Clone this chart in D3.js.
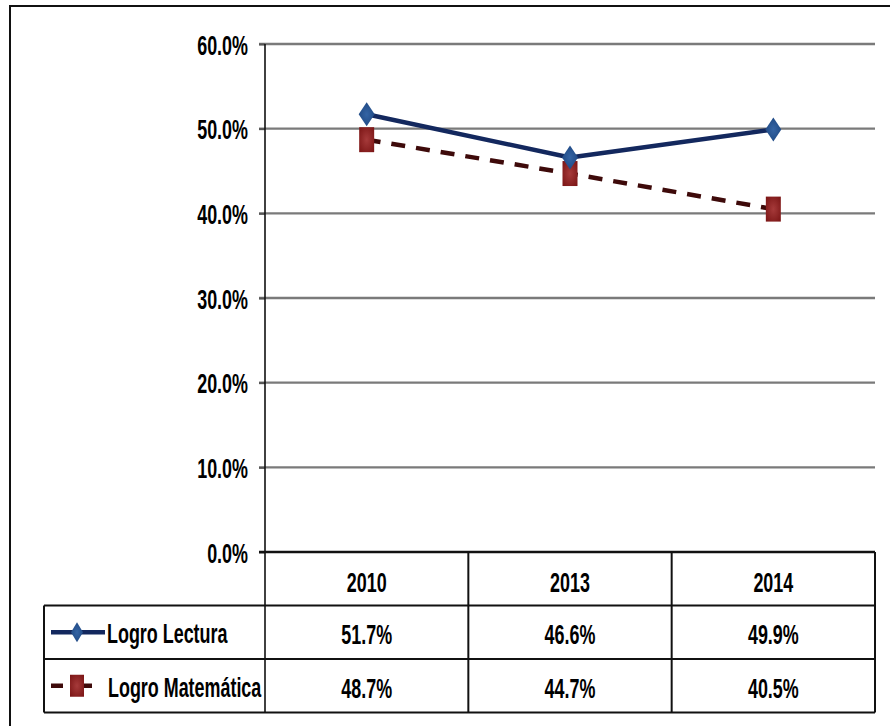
<!DOCTYPE html>
<html lang="es">
<head>
  <meta charset="UTF-8">
  <title>Logro</title>
  <script src="https://cdn.jsdelivr.net/npm/d3@7.6.1/dist/d3.min.js"></script>
  <style>
    body { margin: 0; background: #fff; }
    svg { display: block; }
    text { font-family: "Liberation Sans", Arial, sans-serif; font-weight: bold; fill: #000; }
  </style>
</head>
<body>
  <div id="box"></div>
  <script>
    const width = 890
    const height = 726
    const years = ['2010', '2013', '2014']
    const lectura = [51.7, 46.6, 49.9]
    const matematica = [48.7, 44.7, 40.5]
    const seriesNames = ['Logro Lectura', 'Logro Matemática']
    const yTicks = [0, 10, 20, 30, 40, 50, 60]

    const plot = { left: 265, right: 875, top: 44, bottom: 552 }
    const table = { left: 44, rowH: 53.5 }
    const fs = 28       // tamaño de letra
    const sx = 0.64     // letra estrecha (condensada)

    const svg = d3.select('#box').append('svg')
      .attr('width', width)
      .attr('height', height)

    // marco exterior
    svg.append('rect')
      .attr('x', 10).attr('y', 6)
      .attr('width', 890).attr('height', 740)
      .attr('fill', 'none').attr('stroke', '#111').attr('stroke-width', 2)

    const x = d3.scaleBand().domain(years).range([plot.left, plot.right])
    const y = d3.scaleLinear().domain([0, 60]).range([plot.bottom, plot.top])
    const cx = d => x(d) + x.bandwidth() / 2

    // texto estrecho
    function label(g, tx, ty, str, anchor) {
      return g.append('text')
        .attr('transform', `translate(${tx},${ty}) scale(${sx},1)`)
        .attr('text-anchor', anchor || 'middle')
        .attr('font-size', fs)
        .text(str)
    }

    // líneas de cuadrícula
    svg.append('g')
      .selectAll('line')
      .data(yTicks.filter(d => d > 0))
      .join('line')
      .attr('x1', plot.left - 6).attr('x2', plot.right)
      .attr('y1', d => y(d)).attr('y2', d => y(d))
      .attr('stroke', '#7a7a7a').attr('stroke-width', 2.4)

    // eje Y
    const yAxis = d3.axisLeft(y).tickValues(yTicks).tickSize(6)
      .tickFormat(d => d.toFixed(1) + '%')
    const gy = svg.append('g')
      .attr('transform', `translate(${plot.left},0)`)
      .call(yAxis)
    gy.select('.domain').remove()
    gy.selectAll('.tick line').attr('stroke', '#555').attr('stroke-width', 2)
    gy.selectAll('.tick text')
      .attr('x', 0).attr('dy', null)
      .attr('transform', `translate(-17,10) scale(${sx},1)`)
      .attr('font-size', fs)
      .attr('font-family', '"Liberation Sans", Arial, sans-serif')
      .attr('font-weight', 'bold')
      .attr('fill', '#000')

    // tabla de datos
    const rows = [lectura, matematica]
    const tableBottom = plot.bottom + table.rowH * 3
    const tg = svg.append('g').attr('stroke', '#111').attr('stroke-width', 2)
    // eje vertical que baja por la tabla
    tg.append('line').attr('x1', plot.left).attr('x2', plot.left)
      .attr('y1', plot.top).attr('y2', tableBottom).attr('stroke-width', 1.6)
    // línea del 0% / borde superior de la tabla
    tg.append('line').attr('x1', plot.left - 6).attr('x2', plot.right)
      .attr('y1', plot.bottom).attr('y2', plot.bottom).attr('stroke-width', 2.6)
    years.slice(1).forEach(yr => {
      tg.append('line').attr('x1', x(yr)).attr('x2', x(yr))
        .attr('y1', plot.bottom).attr('y2', tableBottom)
    })
    tg.append('line').attr('x1', plot.right).attr('x2', plot.right)
      .attr('y1', plot.bottom).attr('y2', tableBottom)
    tg.append('line').attr('x1', table.left).attr('x2', table.left)
      .attr('y1', plot.bottom + table.rowH).attr('y2', tableBottom)
    ;[1, 2, 3].forEach(r => {
      tg.append('line').attr('x1', table.left).attr('x2', plot.right)
        .attr('y1', plot.bottom + table.rowH * r).attr('y2', plot.bottom + table.rowH * r)
    })

    // cabecera de años y valores
    const tt = svg.append('g')
    years.forEach(yr => label(tt, cx(yr), plot.bottom + table.rowH / 2 + 13, yr))
    rows.forEach((vals, r) => {
      vals.forEach((v, i) => label(tt, cx(years[i]), plot.bottom + table.rowH * (r + 1.5) + 12, v.toFixed(1) + '%'))
    })

    // símbolos
    const diamond = (w, h) => `M0,${-h / 2}L${w / 2},0L0,${h / 2}L${-w / 2},0Z`
    const square = (w, h) => `M${-w / 2},${-h / 2}h${w}v${h}h${-w}Z`

    const defs = svg.append('defs')
    const gradSq = defs.append('radialGradient').attr('id', 'gsq').attr('r', '65%')
    gradSq.append('stop').attr('offset', '0%').attr('stop-color', '#a63a3a')
    gradSq.append('stop').attr('offset', '100%').attr('stop-color', '#7c1616')
    const gradDi = defs.append('radialGradient').attr('id', 'gdi').attr('r', '60%')
    gradDi.append('stop').attr('offset', '0%').attr('stop-color', '#3464a4')
    gradDi.append('stop').attr('offset', '100%').attr('stop-color', '#1d4680')

    const line = d3.line()
      .x((d, i) => cx(years[i]))
      .y(d => y(d))

    // Lectura
    svg.append('path')
      .datum(lectura)
      .attr('d', line)
      .attr('fill', 'none').attr('stroke', '#13285e').attr('stroke-width', 4.5)
      .attr('stroke-linejoin', 'round')

    // Matemática
    svg.append('path')
      .datum(matematica)
      .attr('d', line)
      .attr('fill', 'none').attr('stroke', '#3e0a0a').attr('stroke-width', 4.5)
      .attr('stroke-dasharray', '14,11')

    svg.append('g').selectAll('path')
      .data(matematica)
      .join('path')
      .attr('transform', (d, i) => `translate(${cx(years[i])},${y(d)})`)
      .attr('d', square(15, 25))
      .attr('fill', 'url(#gsq)')

    svg.append('g').selectAll('path')
      .data(lectura)
      .join('path')
      .attr('transform', (d, i) => `translate(${cx(years[i])},${y(d)})`)
      .attr('d', diamond(16, 24))
      .attr('fill', 'url(#gdi)')

    // leyenda dentro de la tabla
    const ly1 = plot.bottom + table.rowH * 1.5
    const ly2 = plot.bottom + table.rowH * 2.5
    svg.append('line').attr('x1', 51).attr('x2', 105).attr('y1', ly1).attr('y2', ly1)
      .attr('stroke', '#13285e').attr('stroke-width', 4.5)
    svg.append('path').attr('transform', `translate(77,${ly1})`)
      .attr('d', diamond(12, 20)).attr('fill', 'url(#gdi)')
    svg.append('line').attr('x1', 51).attr('x2', 63).attr('y1', ly2).attr('y2', ly2)
      .attr('stroke', '#3e0a0a').attr('stroke-width', 4.5)
    svg.append('line').attr('x1', 84).attr('x2', 92).attr('y1', ly2).attr('y2', ly2)
      .attr('stroke', '#3e0a0a').attr('stroke-width', 4.5)
    svg.append('path').attr('transform', `translate(77,${ly2})`)
      .attr('d', square(14, 22)).attr('fill', 'url(#gsq)')

    const lg = svg.append('g')
    label(lg, 107, ly1 + 11, seriesNames[0], 'start')
    label(lg, 108, ly2 + 11, seriesNames[1], 'start')
  </script>
</body>
</html>
